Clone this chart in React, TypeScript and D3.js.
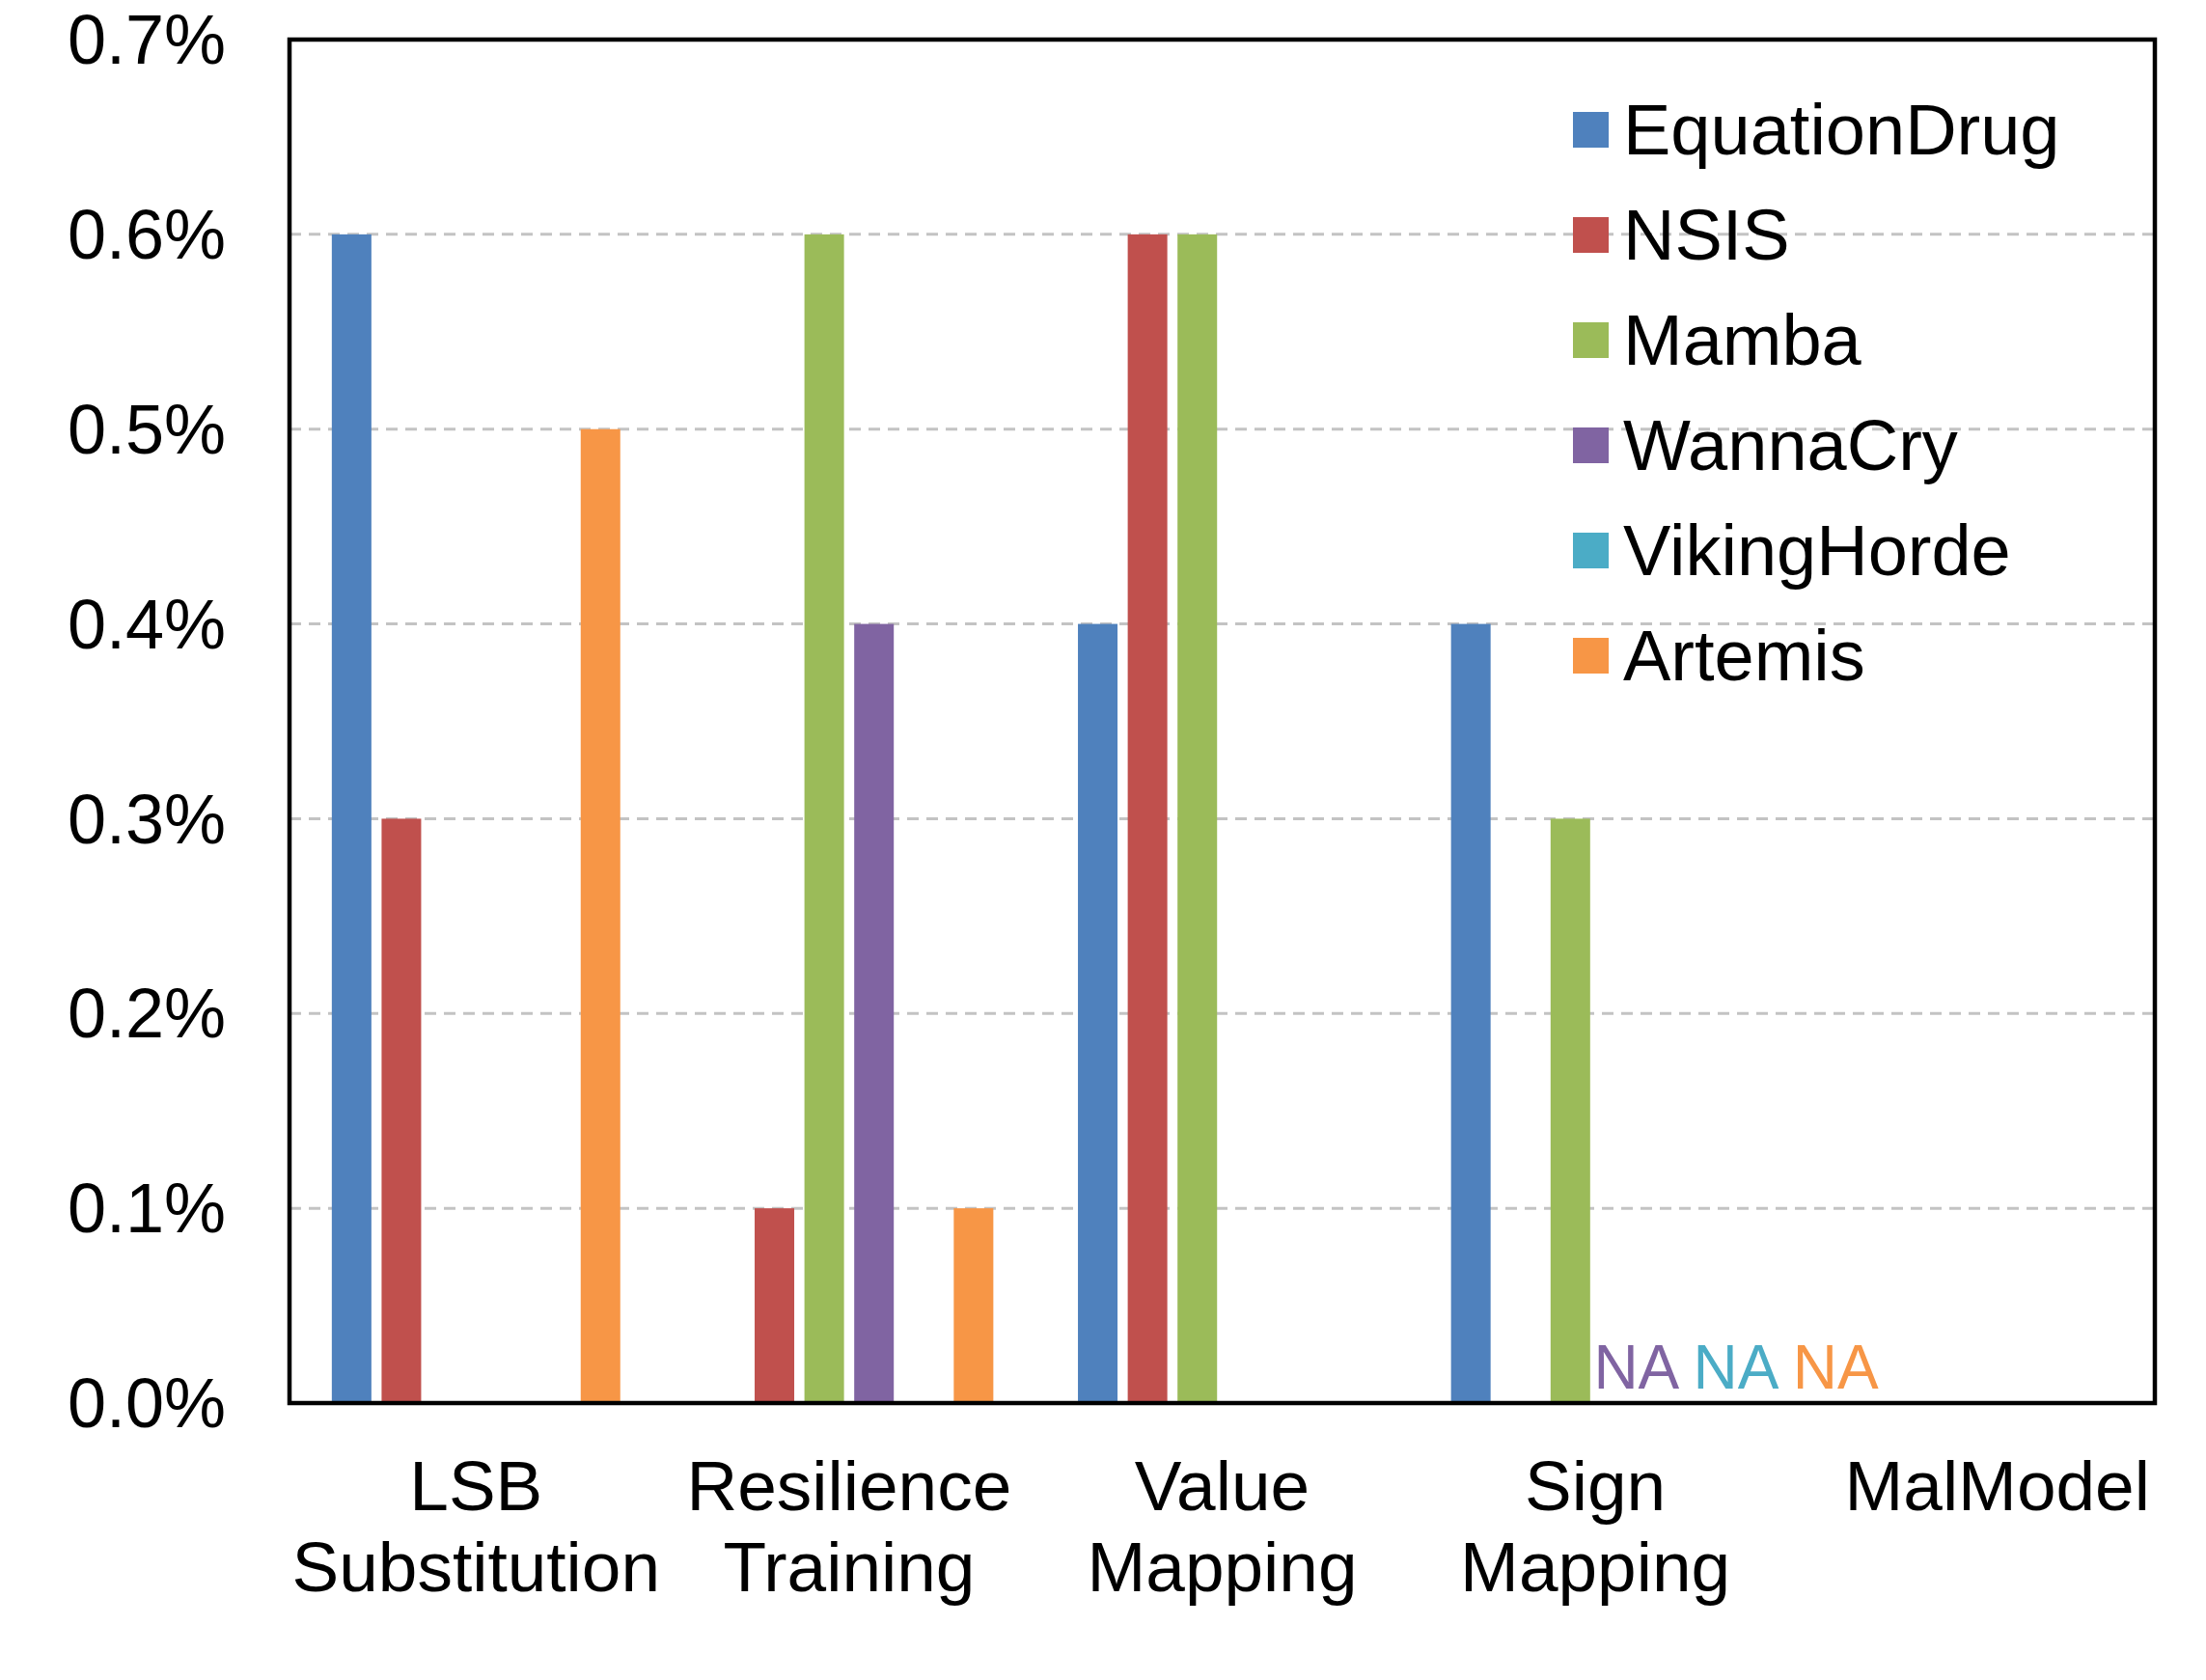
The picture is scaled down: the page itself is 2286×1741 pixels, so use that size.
import React from "react";
import * as d3 from "d3";

const categories: string[][] = [
  ["LSB", "Substitution"],
  ["Resilience", "Training"],
  ["Value", "Mapping"],
  ["Sign", "Mapping"],
  ["MalModel"],
];
const series = ["EquationDrug", "NSIS", "Mamba", "WannaCry", "VikingHorde", "Artemis"];
const colors = ["#4F81BD", "#C0504D", "#9BBB59", "#8064A2", "#4BACC6", "#F79646"];

// values in percent, one array per series (index = category)
const equationDrug = [0.6, 0, 0.4, 0.4, 0];
const nsis = [0.3, 0.1, 0.6, 0, 0];
const mamba = [0, 0.6, 0.6, 0.3, 0];
const wannaCry = [0, 0.4, 0, null, 0];
const vikingHorde = [0, 0, 0, null, 0];
const artemis = [0.5, 0.1, 0, null, 0];
const seriesValues: (number | null)[][] = [equationDrug, nsis, mamba, wannaCry, vikingHorde, artemis];

const yTicks = [0, 0.1, 0.2, 0.3, 0.4, 0.5, 0.6, 0.7];

const W = 2286;
const H = 1741;
const FONT = "'Liberation Sans', Arial, Helvetica, sans-serif";

export default function App() {
  const left = 300;
  const right = 2233;
  const top = 41;
  const bottom = 1454;

  const y = d3.scaleLinear().domain([0, 0.7]).range([bottom, top]);
  const x0 = d3
    .scaleBand<number>()
    .domain(categories.map((_, i) => i))
    .range([left, right])
    .paddingInner(0)
    .paddingOuter(0);
  const x1 = d3
    .scaleBand<string>()
    .domain(series)
    .range([0, x0.bandwidth()])
    .paddingInner(0.205)
    .paddingOuter(0.85);
  const fmt = (v: number) => d3.format(".1f")(v) + "%";

  const legendX = 1630;
  const legendY0 = 134.5;
  const legendStep = 109;
  const sq = 37;

  const naGroups = categories.map((_, ci) =>
    series.map((s, si) => ({ s, si, na: seriesValues[si][ci] === null })).filter((d) => d.na)
  );

  return (
    <svg
      width={W}
      height={H}
      viewBox={`0 0 ${W} ${H}`}
      style={{ position: "absolute", left: 0, top: 0, background: "#fff" }}
      fontFamily={FONT}
    >
      <rect x={0} y={0} width={W} height={H} fill="#fff" />
      {yTicks
        .filter((t) => t > 0 && t < 0.7)
        .map((t) => (
          <line
            key={"g" + t}
            x1={left}
            x2={right}
            y1={y(t)}
            y2={y(t)}
            stroke="#C3C3C3"
            strokeWidth={3}
            strokeDasharray="12,8"
          />
        ))}
      {series.map((s, si) =>
        categories.map((_, ci) => {
          const v = seriesValues[si][ci];
          if (v === null || v <= 0) return null;
          const bx = (x0(ci) as number) + (x1(s) as number);
          return (
            <rect
              key={s + ci}
              x={bx}
              y={y(v)}
              width={x1.bandwidth()}
              height={y(0) - y(v)}
              fill={colors[si]}
            />
          );
        })
      )}
      {naGroups.map((g, ci) =>
        g.length ? (
          <text
            key={"na" + ci}
            x={(x0(ci) as number) + (x1(g[0].s) as number) - 7}
            y={bottom - 15}
            fontSize={64}
          >
            {g.map((d, k) => (
              <tspan key={d.s} fill={colors[d.si]}>
                {(k > 0 ? " " : "") + "NA"}
              </tspan>
            ))}
          </text>
        ) : null
      )}
      <rect
        x={left}
        y={top}
        width={right - left}
        height={bottom - top}
        fill="none"
        stroke="#000"
        strokeWidth={4.5}
      />
      {yTicks.map((t) => (
        <text
          key={"t" + t}
          x={234}
          y={y(t)}
          dy="0.35em"
          textAnchor="end"
          fontSize={72}
          fill="#000"
        >
          {fmt(t)}
        </text>
      ))}
      {categories.map((lines, ci) => {
        const cx = (x0(ci) as number) + x0.bandwidth() / 2 + (lines.length === 1 ? 30 : 0);
        return (
          <text key={"c" + ci} x={cx} y={1565} textAnchor="middle" fontSize={73} fill="#000">
            {lines.map((ln, li) => (
              <tspan key={li} x={cx} y={1565 + li * 84}>
                {ln}
              </tspan>
            ))}
          </text>
        );
      })}
      {series.map((s, si) => {
        const cy = legendY0 + si * legendStep;
        return (
          <g key={"l" + s}>
            <rect x={legendX} y={cy - sq / 2} width={sq} height={sq} fill={colors[si]} />
            <text x={1682} y={cy + 25} fontSize={74} fill="#000">
              {s}
            </text>
          </g>
        );
      })}
    </svg>
  );
}
